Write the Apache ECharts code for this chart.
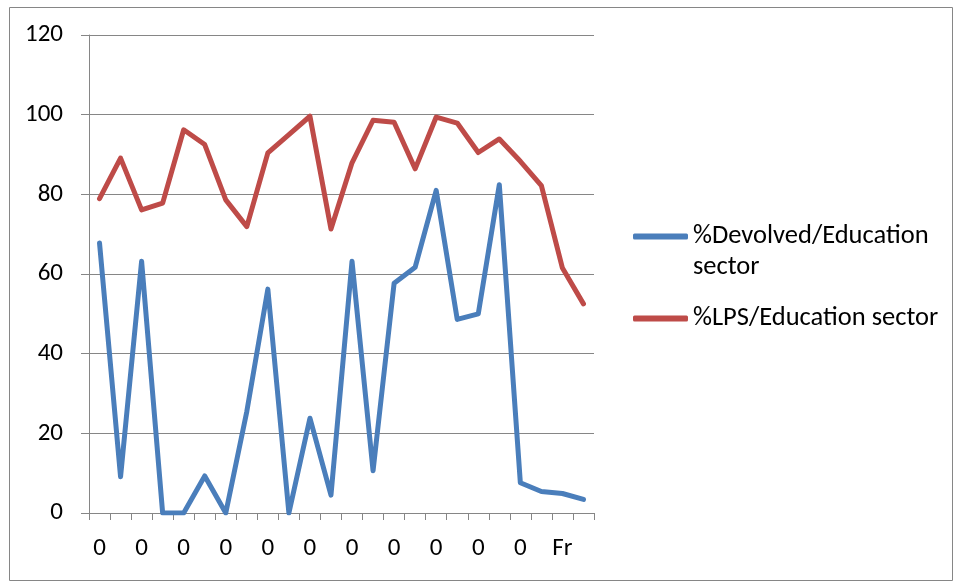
<!DOCTYPE html>
<html>
<head>
<meta charset="utf-8">
<script src="https://cdn.jsdelivr.net/npm/echarts@6/dist/echarts.min.js"></script>
<style>
html,body{margin:0;padding:0;background:#fff;}
#chart{width:957px;height:581px;}
</style>
</head>
<body>
<div id="chart"></div>
<script>
var categories = ['0','0','0','0','0','0','0','0','0','0','0','0','0','0','0','0','0','0','0','0','0','0','Fr','0'];
var devolved = [67.8, 9.1, 63.2, 0, 0, 9.3, 0, 25.5, 56.2, 0, 23.8, 4.5, 63.2, 10.6, 57.7, 61.7, 81.0, 48.6, 50.0, 82.4, 7.6, 5.4, 4.9, 3.4];
var lps = [78.9, 89.1, 76.1, 77.8, 96.2, 92.5, 78.6, 71.9, 90.4, 95.0, 99.6, 71.3, 87.9, 98.6, 98.1, 86.4, 99.4, 97.9, 90.5, 93.9, 88.3, 82.2, 61.5, 52.5];
var seriesNames = ['%Devolved/Education sector', '%LPS/Education sector'];
var yTicks = {min: 0, max: 120, interval: 20};

var FONT = 'Carlito, Calibri, "Liberation Sans", sans-serif';
var chart = echarts.init(document.getElementById('chart'), null, {renderer: 'canvas'});
chart.setOption({
  animation: false,
  backgroundColor: '#ffffff',
  graphic: [{
    type: 'rect', left: 7, top: 5, silent: true,
    shape: {width: 943, height: 573},
    style: {fill: 'none', stroke: '#868686', lineWidth: 1}
  }],
  grid: {left: 89, right: 363, top: 35, bottom: 68, containLabel: false},
  legend: {
    orient: 'vertical',
    left: 633,
    top: 190,
    padding: 0,
    itemWidth: 55,
    itemHeight: 6,
    itemGap: 20,
    icon: 'roundRect',
    textStyle: {fontFamily: FONT, fontSize: 26.5, color: '#000', lineHeight: 31},
    formatter: function (n) { return n === seriesNames[0] ? '\n%Devolved/Education\nsector' : n; },
    data: [seriesNames[0], seriesNames[1]]
  },
  xAxis: {
    type: 'category',
    data: categories,
    boundaryGap: true,
    axisLine: {lineStyle: {color: '#868686', width: 1}},
    axisTick: {show: true, interval: 0, length: 7, lineStyle: {color: '#868686'}},
    axisLabel: {interval: 1, margin: 23, color: '#000', fontFamily: FONT, fontSize: 25},
    splitLine: {show: false}
  },
  yAxis: {
    type: 'value',
    min: yTicks.min, max: yTicks.max, interval: yTicks.interval,
    axisLine: {show: true, lineStyle: {color: '#868686', width: 1}},
    axisTick: {show: true, length: 8, lineStyle: {color: '#868686'}},
    axisLabel: {margin: 26, color: '#000', fontFamily: FONT, fontSize: 25},
    splitLine: {show: true, lineStyle: {color: '#868686', width: 1}}
  },
  series: [
    {
      name: seriesNames[0], type: 'line', data: devolved,
      showSymbol: false, symbol: 'none',
      lineStyle: {color: '#4A7EBB', width: 5, cap: 'round', join: 'round'},
      itemStyle: {color: '#4A7EBB'}
    },
    {
      name: seriesNames[1], type: 'line', data: lps,
      showSymbol: false, symbol: 'none',
      lineStyle: {color: '#BE4B48', width: 5, cap: 'round', join: 'round'},
      itemStyle: {color: '#BE4B48'}
    }
  ]
});
</script>
</body>
</html>
